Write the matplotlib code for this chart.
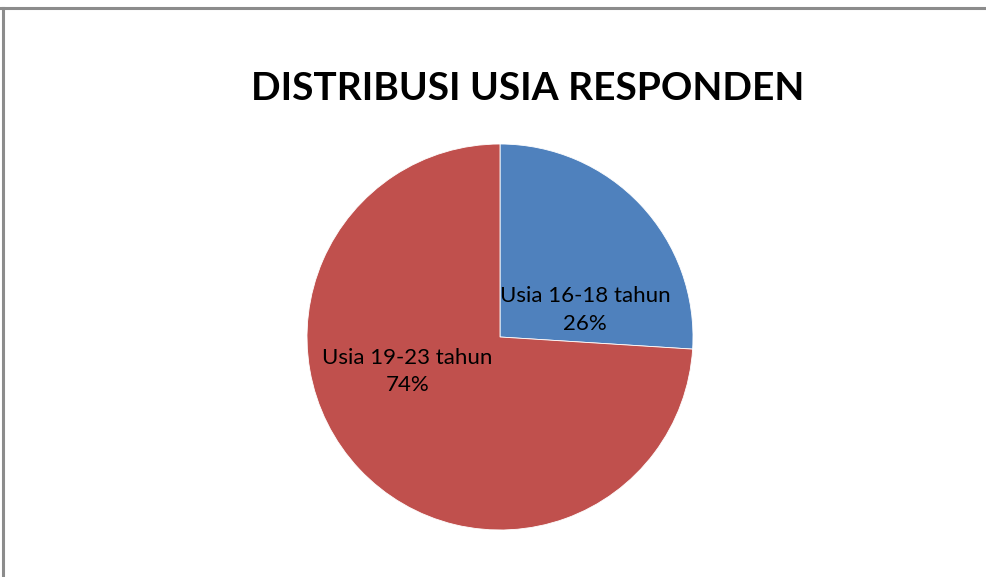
import matplotlib
matplotlib.use("Agg")
import matplotlib.pyplot as plt
from matplotlib.lines import Line2D

# data
labels = ["Usia 16-18 tahun", "Usia 19-23 tahun"]
values = [26, 74]
colors = ["#4F81BD", "#C0504D"]
title = "DISTRIBUSI USIA RESPONDEN"

W, H = 986, 577
fig = plt.figure(figsize=(W / 100, H / 100), dpi=100)
plt.rcParams['font.family'] = ['Lato', 'DejaVu Sans']

# pie axes placed in pixels: center (500, 337), radius 193
cx, cy, r = 500, 337, 193
ax = fig.add_axes([(cx - r) / W, (H - cy - r) / H, 2 * r / W, 2 * r / H])
wedges, texts = ax.pie(values, colors=colors, startangle=90, counterclock=False,
                       radius=1, wedgeprops=dict(edgecolor="white", linewidth=0.6))
ax.set_xlim(-1, 1)
ax.set_ylim(-1, 1)
ax.set_aspect("equal")
ax.axis("off")

label_pos = [(0.44, 0.14), (-0.48, -0.18)]
total = sum(values)
for lab, v, (x, y) in zip(labels, values, label_pos):
    ax.text(x, y, "%s\n%d%%" % (lab, round(100.0 * v / total)), ha="center", va="center",
            fontsize=16, color="black", linespacing=1.45)

fig.text(528 / W, 1 - 88 / H, title, ha="center", va="center",
         fontsize=28, fontweight="bold")

# chart area border (top and left visible)
fig.add_artist(Line2D([0, 1], [1 - 7.5 / H, 1 - 7.5 / H], color="#8C8C8C", linewidth=2.2))
fig.add_artist(Line2D([2.5 / W, 2.5 / W], [0, 1 - 7.5 / H], color="#8C8C8C", linewidth=2.2))

fig.savefig("out.png", dpi=100, facecolor="white")
